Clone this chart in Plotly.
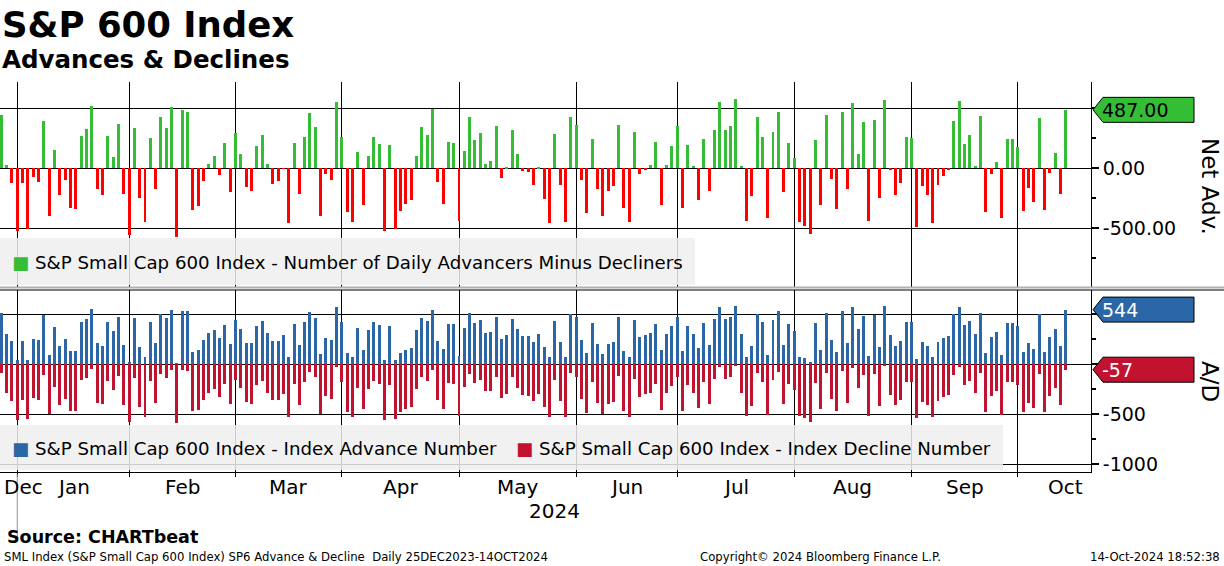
import pandas as pd
import plotly.graph_objects as go

# ---------------- data ----------------
start_date = "2023-12-27"
end_date = "2024-10-14"
holidays = ["2024-01-01", "2024-01-15", "2024-02-19", "2024-03-29",
            "2024-05-27", "2024-06-19", "2024-07-04", "2024-09-02"]

net_adv = [
    444, 25, -119, -519, -119, -503, -69, -111, 394, -397,
    153, -219, -94, -328, -336, 269, 328, 519, -169, -219,
    269, 94, 369, -211, -553, 336, -244, -444, 253, -169,
    428, 336, 511, -569, 486, 469, -344, -311, -103, 36,
    103, -53, 211, -194, 294, 119, -153, -186, 186, 278,
    36, -128, -103, -5, -453, 211, -211, 261, 461, 344,
    -394, -44, -94, 553, 261, -361, -444, 136, -303, 103,
    261, 203, -519, 194, -503, -353, -294, -261, 103, 344,
    278, 494, -111, -294, 219, 211, -436, 144, 428, 236,
    294, 36, 61, 353, -78, 3, 319, 119, -19, -28,
    -136, 11, -253, -453, 286, -136, -444, 428, 361, -94,
    -369, 244, -169, -394, -186, -144, 361, -328, -444, 303,
    -44, -6, 28, 219, -303, 28, 186, 353, -328, 194,
    19, -261, 244, -186, 319, 553, 319, 353, 578, 19,
    -436, -228, 428, 261, -411, 303, 469, -194, 211, 86,
    -444, -478, -544, 236, -303, 444, -86, -336, 469, -169,
    544, 119, 386, -436, 403, -244, 569, -6, -219, -119,
    261, 253, -486, -144, -219, -453, -136, -61, -11, 394,
    561, 203, 278, 19, 436, -361, -44, 53, -411, 244,
    244, 178, -353, -161, -278, 419, -344, -36, 128, -211, 487,
]

advances = [
    510, 300, 230, 40, 230, 40, 250, 240, 493, 90,
    370, 180, 250, 130, 130, 420, 450, 550, 210, 180,
    420, 330, 470, 190, 20, 460, 170, 70, 420, 210,
    500, 460, 540, 10, 530, 530, 120, 140, 240, 310,
    340, 260, 390, 200, 440, 350, 210, 210, 380, 430,
    310, 230, 235, 290, 70, 400, 190, 420, 520, 460,
    100, 260, 240, 570, 420, 110, 70, 360, 140, 340,
    420, 393, 40, 380, 40, 110, 140, 160, 340, 460,
    430, 540, 230, 150, 400, 400, 80, 360, 510, 410,
    440, 310, 320, 470, 250, 290, 450, 350, 280, 280,
    220, 300, 170, 70, 430, 220, 70, 500, 470, 240,
    110, 410, 200, 100, 200, 220, 470, 130, 70, 440,
    270, 290, 310, 400, 140, 300, 380, 470, 130, 380,
    300, 160, 410, 190, 450, 570, 450, 470, 580, 300,
    70, 180, 500, 420, 90, 440, 530, 190, 400, 330,
    70, 60, 20, 410, 140, 510, 240, 120, 530, 210,
    570, 350, 480, 80, 490, 170, 580, 290, 180, 230,
    420, 420, 50, 220, 180, 70, 220, 260, 280, 500,
    570, 390, 430, 300, 510, 110, 270, 320, 90, 410,
    410, 380, 120, 210, 150, 500, 120, 270, 350, 180, 544,
]

declines = [
    -87, -287, -367, -557, -357, -547, -337, -357, -107, -497,
    -227, -407, -347, -467, -467, -157, -137, -47, -387, -397,
    -167, -257, -117, -407, -577, -137, -427, -527, -167, -387,
    -97, -137, -57, -587, -57, -67, -467, -457, -357, -287,
    -247, -327, -197, -397, -157, -237, -377, -397, -207, -167,
    -287, -357, -362, -297, -527, -197, -407, -177, -77, -127,
    -497, -317, -347, -27, -177, -477, -527, -237, -447, -247,
    -167, -197, -557, -207, -547, -477, -447, -427, -247, -127,
    -167, -57, -357, -447, -187, -197, -517, -227, -97, -187,
    -157, -267, -267, -127, -337, -297, -127, -237, -307, -317,
    -367, -297, -427, -527, -157, -367, -527, -87, -127, -347,
    -487, -177, -387, -497, -397, -377, -117, -467, -527, -147,
    -327, -297, -287, -197, -457, -287, -217, -127, -467, -207,
    -287, -437, -177, -397, -147, -27, -147, -127, -17, -287,
    -517, -417, -87, -177, -507, -157, -77, -397, -197, -257,
    -517, -537, -577, -187, -447, -87, -347, -467, -67, -387,
    -37, -237, -107, -517, -97, -417, -17, -307, -407, -357,
    -177, -177, -537, -377, -407, -527, -367, -327, -307, -107,
    -27, -207, -167, -287, -87, -477, -317, -267, -507, -177,
    -177, -207, -477, -387, -437, -97, -477, -317, -237, -407, -57,
]

top_ticks = [500, 0, -500]
top_ticktext = ["", "0.00", "-500.00"]
bot_ticks = [500, 0, -500, -1000]
bot_ticktext = ["", "", "-500", "-1000"]

# ---------------- derived positions ----------------
dates = [d for d in pd.bdate_range(start_date, end_date)
         if d.strftime("%Y-%m-%d") not in holidays]
idx = list(range(len(dates)))
months = [d.strftime("%Y-%m") for d in dates]
month_starts = [i for i in idx if i == 0 or months[i] != months[i - 1]]
month_starts = [i for i in month_starts if dates[i].month != 12]  # first Jan..Oct

x_range = [-0.244, 204.75]

GREEN = "#36bd36"
RED = "#ff0000"
BLUE = "#2b67a7"
CRIMSON = "#c1122f"
FONT = "DejaVu Sans"

fig = go.Figure()
fig.add_trace(go.Bar(
    x=idx, y=net_adv, xaxis="x", yaxis="y", width=0.56,
    marker=dict(color=[GREEN if v >= 0 else RED for v in net_adv], line=dict(width=0)),
    showlegend=False,
))
fig.add_trace(go.Bar(
    x=idx, y=advances, xaxis="x2", yaxis="y2", width=0.56,
    marker=dict(color=BLUE, line=dict(width=0)), showlegend=False,
))
fig.add_trace(go.Bar(
    x=idx, y=declines, xaxis="x2", yaxis="y2", width=0.56,
    marker=dict(color=CRIMSON, line=dict(width=0)), showlegend=False,
))

PLOT_H = 390.0
def py(px):  # pixel y (from top of page) -> paper fraction
    return (472 - px) / PLOT_H
def pxx(px):  # pixel x -> paper fraction
    return px / 1091.0

fig.update_layout(
    width=1224, height=566,
    margin=dict(l=0, r=133, t=82, b=94),
    paper_bgcolor="white", plot_bgcolor="white",
    barmode="relative", bargap=0,
    font=dict(family=FONT, size=17, color="black"),
    xaxis=dict(domain=[0, 1], anchor="y", range=x_range, tickmode="array",
               tickvals=month_starts, showticklabels=False, ticks="",
               showgrid=True, gridcolor="black", gridwidth=1, zeroline=False,
               showline=False),
    xaxis2=dict(domain=[0, 1], anchor="y2", matches="x", range=x_range,
                tickmode="array", tickvals=month_starts, showticklabels=False,
                ticks="outside", ticklen=4, tickcolor="black",
                showgrid=True, gridcolor="black", gridwidth=1, zeroline=False,
                showline=True, linecolor="black", linewidth=1),
    yaxis=dict(domain=[py(287), 1.0], anchor="x", side="right",
               range=[-989, 719], tickmode="array", tickvals=top_ticks,
               ticktext=top_ticktext, ticks="outside", ticklen=7, tickwidth=2,
               tickcolor="black", showgrid=True, gridcolor="black", gridwidth=1,
               zeroline=True, zerolinecolor="black", zerolinewidth=1,
               showline=True, linecolor="black", linewidth=1,
               tickfont=dict(family=FONT, size=19),
               minor=dict(tickmode="array", tickvals=[250, -250, -750],
                          ticks="outside", ticklen=4, tickcolor="black", showgrid=False)),
    yaxis2=dict(domain=[0, py(290)], anchor="x2", side="right",
                range=[-1080, 740], tickmode="array", tickvals=bot_ticks,
                ticktext=bot_ticktext, ticks="outside", ticklen=7, tickwidth=2,
                tickcolor="black", showgrid=True, gridcolor="black", gridwidth=1,
                zeroline=True, zerolinecolor="black", zerolinewidth=1,
                showline=True, linecolor="black", linewidth=1,
                tickfont=dict(family=FONT, size=19),
                minor=dict(tickmode="array", tickvals=[250, -250, -750],
                           ticks="outside", ticklen=4, tickcolor="black", showgrid=False)),
)

shapes = []
# legend boxes
shapes.append(dict(type="rect", xref="paper", yref="paper", x0=0, x1=pxx(695),
                   y0=py(285), y1=py(238), fillcolor="rgba(238,238,238,0.85)",
                   line=dict(width=0), layer="above"))
shapes.append(dict(type="rect", xref="paper", yref="paper", x0=0, x1=pxx(1003),
                   y0=py(470), y1=py(425), fillcolor="rgba(238,238,238,0.85)",
                   line=dict(width=0), layer="above"))
# panel separator
shapes.append(dict(type="line", xref="paper", yref="paper", x0=0, x1=1224 / 1091.0,
                   y0=py(287.5), y1=py(287.5), line=dict(color="#b0b0b0", width=2), layer="above"))
shapes.append(dict(type="line", xref="paper", yref="paper", x0=0, x1=1224 / 1091.0,
                   y0=py(290), y1=py(290), line=dict(color="black", width=1), layer="above"))
# year separator tick
shapes.append(dict(type="line", xref="x2", yref="paper", x0=month_starts[0], x1=month_starts[0],
                   y0=py(474), y1=py(540), line=dict(color="#909090", width=1)))

# value tags
tags = [
    ("y", net_adv[-1], f"{net_adv[-1]:.2f}", GREEN, "black"),
    ("y2", advances[-1], f"{advances[-1]}", BLUE, "white"),
    ("y2", declines[-1], f"{declines[-1]}", CRIMSON, "white"),
]
annotations = []
for yref, val, txt, col, tcol in tags:
    shapes.append(dict(type="path", xref="paper", yref=yref, xsizemode="pixel",
                       ysizemode="pixel", xanchor=1.0, yanchor=val,
                       path="M 2,0 L 12,12.5 L 103,12.5 L 103,-12.5 L 12,-12.5 Z",
                       fillcolor=col, line=dict(color="black", width=1), layer="above"))
    annotations.append(dict(xref="paper", yref=yref, x=1.0, y=val, xanchor="left",
                            yanchor="middle", xshift=9, text=txt, showarrow=False,
                            font=dict(family=FONT, size=19, color=tcol)))

# month labels
month_names = [dates[i].strftime("%b") for i in month_starts]
for k, i in enumerate(month_starts):
    end_i = month_starts[k + 1] if k + 1 < len(month_starts) else idx[-1] * 2 - i
    annotations.append(dict(xref="x2", yref="paper", x=(i + end_i) / 2.0, y=py(487),
                            text=month_names[k], showarrow=False, yanchor="middle",
                            font=dict(family=FONT, size=20)))
annotations.append(dict(xref="x2", yref="paper", x=x_range[0], xanchor="left", xshift=2,
                        y=py(487), yanchor="middle", text=dates[0].strftime("%b"),
                        showarrow=False, font=dict(family=FONT, size=20)))
annotations.append(dict(xref="x2", yref="paper", x=(month_starts[0] + x_range[1]) / 2.0,
                        y=py(511), yanchor="middle", text=dates[-1].strftime("%Y"),
                        showarrow=False, font=dict(family=FONT, size=20)))

# legends
LEG = 18.2
annotations.append(dict(xref="paper", yref="paper", x=pxx(10), y=py(262), xanchor="left",
                        yanchor="middle", showarrow=False,
                        text=f"<span style='color:{GREEN}'>■</span> S&P Small Cap 600 Index - Number of Daily Advancers Minus Decliners",
                        font=dict(family=FONT, size=LEG)))
annotations.append(dict(xref="paper", yref="paper", x=pxx(10), y=py(448), xanchor="left",
                        yanchor="middle", showarrow=False,
                        text=f"<span style='color:{BLUE}'>■</span> S&P Small Cap 600 Index - Index Advance Number",
                        font=dict(family=FONT, size=LEG)))
annotations.append(dict(xref="paper", yref="paper", x=pxx(514), y=py(448), xanchor="left",
                        yanchor="middle", showarrow=False,
                        text=f"<span style='color:{CRIMSON}'>■</span> S&P Small Cap 600 Index - Index Decline Number",
                        font=dict(family=FONT, size=LEG)))

# axis titles
annotations.append(dict(xref="paper", yref="paper", x=pxx(1210), y=py(186), textangle=90,
                        xanchor="center", yanchor="middle",
                        text="Net Adv.", showarrow=False, font=dict(family=FONT, size=23)))
annotations.append(dict(xref="paper", yref="paper", x=pxx(1210), y=py(381), textangle=90,
                        xanchor="center", yanchor="middle",
                        text="A/D", showarrow=False, font=dict(family=FONT, size=23)))

# titles and footer
annotations.append(dict(xref="paper", yref="paper", x=0, y=py(24), xanchor="left",
                        yanchor="middle", text="<b>S&P 600 Index</b>", showarrow=False,
                        font=dict(family=FONT, size=35.5)))
annotations.append(dict(xref="paper", yref="paper", x=0, y=py(60), xanchor="left",
                        yanchor="middle", text="<b>Advances & Declines</b>", showarrow=False,
                        font=dict(family=FONT, size=24.5)))
annotations.append(dict(xref="paper", yref="paper", x=pxx(5), y=py(537), xanchor="left",
                        yanchor="middle", text="<b>Source: CHARTbeat</b>", showarrow=False,
                        font=dict(family=FONT, size=17.5)))
annotations.append(dict(xref="paper", yref="paper", x=pxx(2), y=py(557), xanchor="left",
                        yanchor="middle", showarrow=False,
                        text="SML Index (S&P Small Cap 600 Index) SP6 Advance & Decline  Daily 25DEC2023-14OCT2024",
                        font=dict(family=FONT, size=11.7)))
annotations.append(dict(xref="paper", yref="paper", x=pxx(820), y=py(557), xanchor="center",
                        yanchor="middle", showarrow=False,
                        text="Copyright© 2024 Bloomberg Finance L.P.",
                        font=dict(family=FONT, size=11.7)))
annotations.append(dict(xref="paper", yref="paper", x=pxx(1222), y=py(557), xanchor="right",
                        yanchor="middle", showarrow=False, text="14-Oct-2024 18:52:38",
                        font=dict(family=FONT, size=11.7)))

fig.update_layout(shapes=shapes, annotations=annotations)
fig.write_html("out.html", config={"displayModeBar": False},
               post_script="document.body.style.margin='0px';")
